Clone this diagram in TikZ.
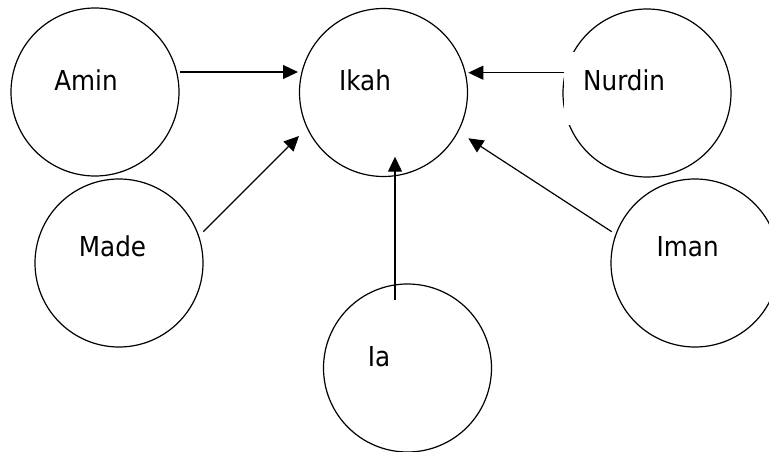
\documentclass[tikz,border=0pt]{standalone}
\usepackage{fontspec}
\setmainfont{DejaVu Sans Condensed}
\usepackage{tikz}
\usetikzlibrary{arrows.meta, calc}

\begin{document}
\begin{tikzpicture}[x=1pt, y=1pt,
	person/.style={circle, draw, line width=1.2pt, minimum size=168pt, inner sep=0pt},
	nametext/.style={anchor=base, font=\fontsize{27.4}{30}\selectfont, inner sep=0pt},
	link/.style={-{Triangle[length=15pt, width=14pt]}, line width=1.2pt}]
	\useasboundingbox (0,0) rectangle (769,451);
	% circles
	\node[person] (amin) at (95,359) {};
	\node[person] (ikah) at (383.5,358.5) {};
	\node[person] (nurdin) at (647,358) {};
	\node[person] (made) at (119,188) {};
	\node[person] (ia) at (407.5,83) {};
	\node[person] (iman) at (695,188) {};
	% labels
	\node[nametext] (aminname) at (86,360.3) {Amin};
	\node[nametext] (ikahname) at (365,360.3) {Ikah};
	\node[nametext, anchor=west, fill=white, inner xsep=19pt, text height=20pt, text depth=15.6pt, minimum height=73pt] (nurdinname) at (564,362.5) {Nurdin};
	\node[nametext] (madename) at (112.5,195) {Made};
	\node[nametext] (ianame) at (379,85) {Ia};
	\node[nametext] (imanname) at (687.7,195) {Iman};
	% arrows
	\draw[link] ($(amin)+(85,20)$) -- ($(ikah)+(-85.5,20.5)$);
	\draw[link] ($(nurdin)+(-82.7,20.3)$) -- ($(ikah)+(84.8,19.8)$);
	\draw[link] ($(made)+(84.3,31.3)$) -- ($(ikah)+(-84.5,-43.5)$);
	\draw[link] ($(ia)+(-12.5,68)$) -- ($(ikah)+(11.5,-64.2)$);
	\draw[link] ($(iman)+(-83.3,31.3)$) -- ($(ikah)+(84.8,-45.8)$);
\end{tikzpicture}
\end{document}
